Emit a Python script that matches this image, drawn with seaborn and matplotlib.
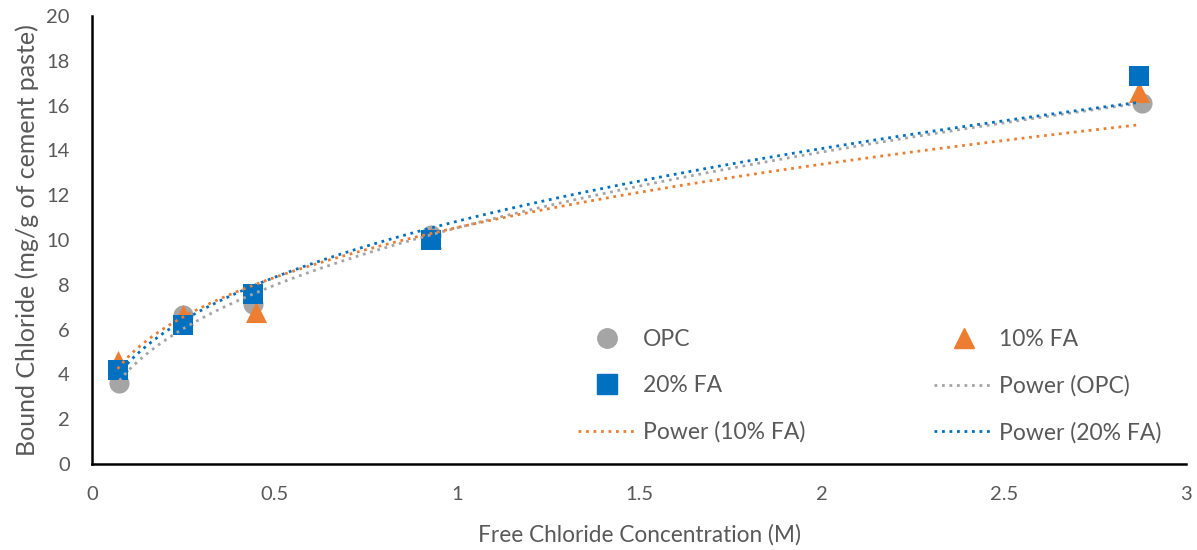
import numpy as np
import pandas as pd
import matplotlib
matplotlib.use("Agg")
import matplotlib.pyplot as plt
import seaborn as sns
from matplotlib.lines import Line2D

# Data
opc_x = [0.075, 0.25, 0.44, 0.93, 2.88]
opc_y = [3.6, 6.65, 7.15, 10.2, 16.1]
fa10_x = [0.07, 0.25, 0.45, 0.93, 2.87]
fa10_y = [4.6, 6.65, 6.8, 10.1, 16.6]
fa20_x = [0.07, 0.25, 0.44, 0.93, 2.87]
fa20_y = [4.2, 6.2, 7.6, 10.0, 17.3]

series = ["OPC", "10% FA", "20% FA"]
colors = {"OPC": "#A5A5A5", "10% FA": "#ED7D31", "20% FA": "#0070C0"}
markers = {"OPC": "o", "10% FA": "^", "20% FA": "s"}
x_ticks = [0, 0.5, 1, 1.5, 2, 2.5, 3]
x_tick_labels = ["0", "0.5", "1", "1.5", "2", "2.5", "3"]
y_ticks = list(range(0, 21, 2))

df = pd.DataFrame({
    "x": opc_x + fa10_x + fa20_x,
    "y": opc_y + fa10_y + fa20_y,
    "s": ["OPC"] * 5 + ["10% FA"] * 5 + ["20% FA"] * 5,
})

sns.set_theme(style="white")
plt.rcParams["font.family"] = ["Lato", "DejaVu Sans"]
txt = "#595959"

fig = plt.figure(figsize=(11.97, 5.5), dpi=100)
ax = fig.add_axes([0.0769, 0.1564, 0.9141, 0.8146])

sizes = {"OPC": 210, "10% FA": 230, "20% FA": 190}
for i, s in enumerate(series):
    sub = df[df.s == s]
    sns.scatterplot(data=sub, x="x", y="y", color=colors[s], marker=markers[s],
                    s=sizes[s], linewidth=0, ax=ax, zorder=2 + i, legend=False)

# Power trendlines (fitted from the data points)
for s in series:
    sub = df[df.s == s]
    b, a = np.polyfit(np.log(sub.x), np.log(sub.y), 1)
    xs = np.linspace(sub.x.min(), sub.x.max(), 300)
    ys = np.exp(a) * xs ** b
    sns.lineplot(x=xs, y=ys, color=colors[s], linewidth=2.0,
                 linestyle=(0, (1, 1.7)), ax=ax, zorder=6, legend=False)

ax.set_xlim(0, 3)
ax.set_ylim(0, 20)
ax.set_xticks(x_ticks)
ax.set_xticklabels(x_tick_labels)
ax.set_yticks(y_ticks)
for sp in ["top", "right"]:
    ax.spines[sp].set_visible(False)
for sp in ["left", "bottom"]:
    ax.spines[sp].set_color("black")
    ax.spines[sp].set_linewidth(1.8)
ax.tick_params(axis="both", direction="out", length=5, width=1.8, color="black",
               labelsize=14.5, labelcolor=txt, pad=11)
ax.set_xlabel("Free Chloride Concentration (M)", fontsize=16.3, color=txt, labelpad=15)
ax.set_ylabel("Bound Chloride (mg/g of cement paste)", fontsize=18, color=txt, labelpad=5)

def mk(s):
    return Line2D([], [], linestyle="none", marker=markers[s], color=colors[s], markersize=14)

def ln(s):
    return Line2D([], [], color=colors[s], linewidth=2.0, linestyle=(0, (1, 1.7)))

handles = [mk("OPC"), mk("20% FA"), ln("10% FA"), mk("10% FA"), ln("OPC"), ln("20% FA")]
labels = ["OPC", "20% FA", "Power (10% FA)", "10% FA", "Power (OPC)", "Power (20% FA)"]
leg = ax.legend(handles, labels, ncol=2, loc="lower left", bbox_to_anchor=(0.425, 0.0),
                frameon=False, fontsize=16.5, labelspacing=1.1, columnspacing=5.6,
                handlelength=2.6, handletextpad=0.25)
for t in leg.get_texts():
    t.set_color(txt)

fig.savefig("out.png", dpi=100)
